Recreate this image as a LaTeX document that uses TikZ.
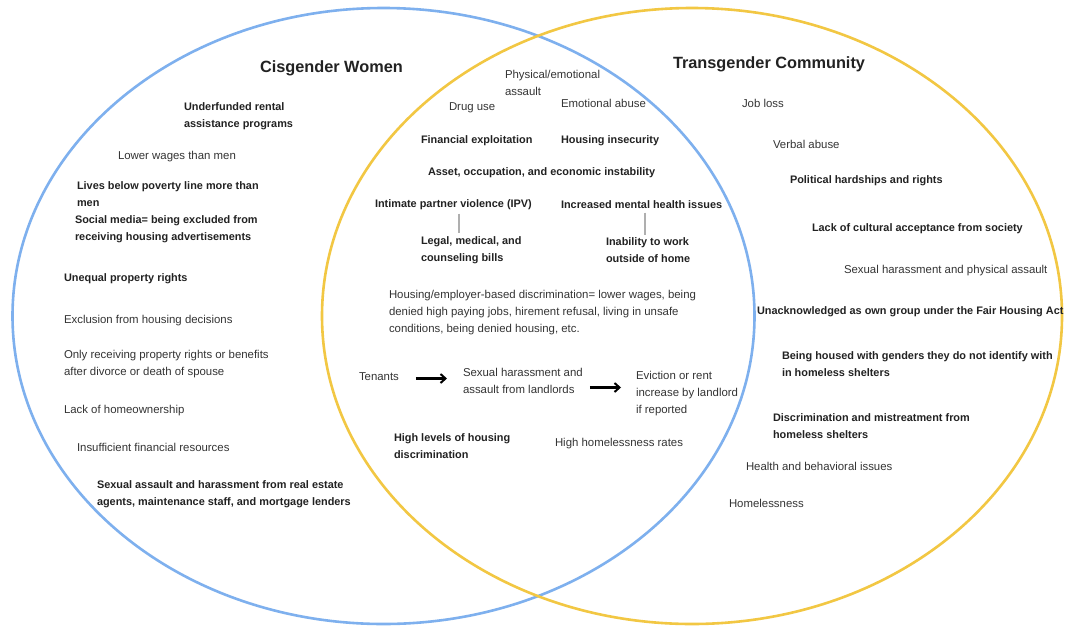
\documentclass[tikz,border=0pt]{standalone}
\usepackage{fontspec}
\setmainfont{Liberation Sans}
\usetikzlibrary{arrows.meta}
\definecolor{setblue}{RGB}{126,176,238}
\definecolor{setyellow}{RGB}{242,199,67}
\definecolor{txtnorm}{RGB}{52,52,52}
\definecolor{txtbold}{RGB}{34,34,34}
\definecolor{linkgray}{RGB}{175,175,175}
\begin{document}
\begin{tikzpicture}[x=1pt,y=-1pt,
  every node/.style={inner sep=0pt,outer sep=0pt,anchor=west,align=left,yshift=-1.5pt},
  plain/.style={font=\fontsize{11.4}{17}\selectfont,text=txtnorm},
  strong/.style={font=\fontsize{10.9}{17}\selectfont\bfseries,text=txtbold},
  heading/.style={font=\fontsize{16.3}{20}\selectfont\bfseries,text=txtbold},
  setline/.style={line width=2.6pt},
  arr/.style={-{Straight Barb[length=5pt,width=9pt,line width=2pt]},line width=2.2pt,black},
  link/.style={draw=linkgray,line width=1.2pt}]
\useasboundingbox (0,0) rectangle (1078,627);
\fill[white] (0,0) rectangle (1078,627);

% the two sets
\draw[setline,setblue] (383.5,316) ellipse [x radius=371, y radius=308];
\draw[setline,setyellow] (692,316) ellipse [x radius=370, y radius=308];

% set titles
\node[heading] (cis) at (260,67) {Cisgender Women};
\node[heading] (trans) at (673,63) {Transgender Community};

% cisgender women only
\node[strong] (l1) at (184,114.5) {Underfunded rental\\assistance programs};
\node[plain]  (l2) at (118,155) {Lower wages than men};
\node[strong] (l3) at (77,192.5) {Lives below poverty line more than\\men};
\node[strong] (l4) at (75,227.5) {Social media= being excluded from\\receiving housing advertisements};
\node[strong] (l5) at (64,277) {Unequal property rights};
\node[plain]  (l6) at (64,319) {Exclusion from housing decisions};
\node[plain]  (l7) at (64,362.5) {Only receiving property rights or benefits\\after divorce or death of spouse};
\node[plain]  (l8) at (64,409) {Lack of homeownership};
\node[plain]  (l9) at (77,446) {Insufficient financial resources};
\node[strong] (l10) at (97,492.5) {Sexual assault and harassment from real estate\\agents, maintenance staff, and mortgage lenders};

% shared by both
\node[plain]  (m1) at (505,81) {Physical/emotional\\assault};
\node[plain]  (m2) at (449,106) {Drug use};
\node[plain]  (m3) at (561,102) {Emotional abuse};
\node[strong] (m4) at (421,139) {Financial exploitation};
\node[strong] (m5) at (561,139) {Housing insecurity};
\node[strong] (m6) at (428,171) {Asset, occupation, and economic instability};
\node[strong] (ipv) at (375,203) {Intimate partner violence (IPV)};
\node[strong] (mental) at (561,203) {Increased mental health issues};
\node[strong] (bills) at (421,248.5) {Legal, medical, and\\counseling bills};
\node[strong] (work) at (606,248.5) {Inability to work\\outside of home};
\node[plain]  (disc) at (389,311) {Housing/employer-based discrimination= lower wages, being\\denied high paying jobs, hirement refusal, living in unsafe\\conditions, being denied housing, etc.};
\node[plain]  (tenants) at (359,375) {Tenants};
\node[plain]  (harass) at (463,379.5) {Sexual harassment and\\assault from landlords};
\node[plain]  (evict) at (636,392) {Eviction or rent\\increase by landlord\\if reported};
\node[strong] (hdisc) at (394,445) {High levels of housing\\discrimination};
\node[plain]  (hless) at (555,442) {High homelessness rates};

% short links from a cause to its consequence
\draw[link,shorten <=4pt,shorten >=3pt] ([xshift=5.5pt]ipv.south) -- ([xshift=5.5pt]ipv.south |- bills.north);
\draw[link,shorten <=4pt,shorten >=3pt] ([xshift=3.5pt]mental.south) -- ([xshift=3.5pt]mental.south |- work.north);

% chain of consequences for tenants
\draw[arr,shorten <=17pt,shorten >=16pt] ([yshift=-2pt]tenants.east) -- ([yshift=-2pt]tenants.east -| harass.west);
\draw[arr,shorten <=7pt,shorten >=15pt] ([yshift=-6.5pt]harass.east) -- ([yshift=-6.5pt]harass.east -| evict.west);

% transgender community only
\node[plain]  (r1) at (742,102) {Job loss};
\node[plain]  (r2) at (773,143) {Verbal abuse};
\node[strong] (r3) at (790,179) {Political hardships and rights};
\node[strong] (r4) at (812,227) {Lack of cultural acceptance from society};
\node[plain]  (r5) at (844,269) {Sexual harassment and physical assault};
\node[strong] (r6) at (757,310) {Unacknowledged as own group under the Fair Housing Act};
\node[strong] (r7) at (782,362.5) {Being housed with genders they do not identify with\\in homeless shelters};
\node[strong] (r8) at (773,424.5) {Discrimination and mistreatment from\\homeless shelters};
\node[plain]  (r9) at (746,465) {Health and behavioral issues};
\node[plain]  (r10) at (729,502) {Homelessness};
\end{tikzpicture}
\end{document}
